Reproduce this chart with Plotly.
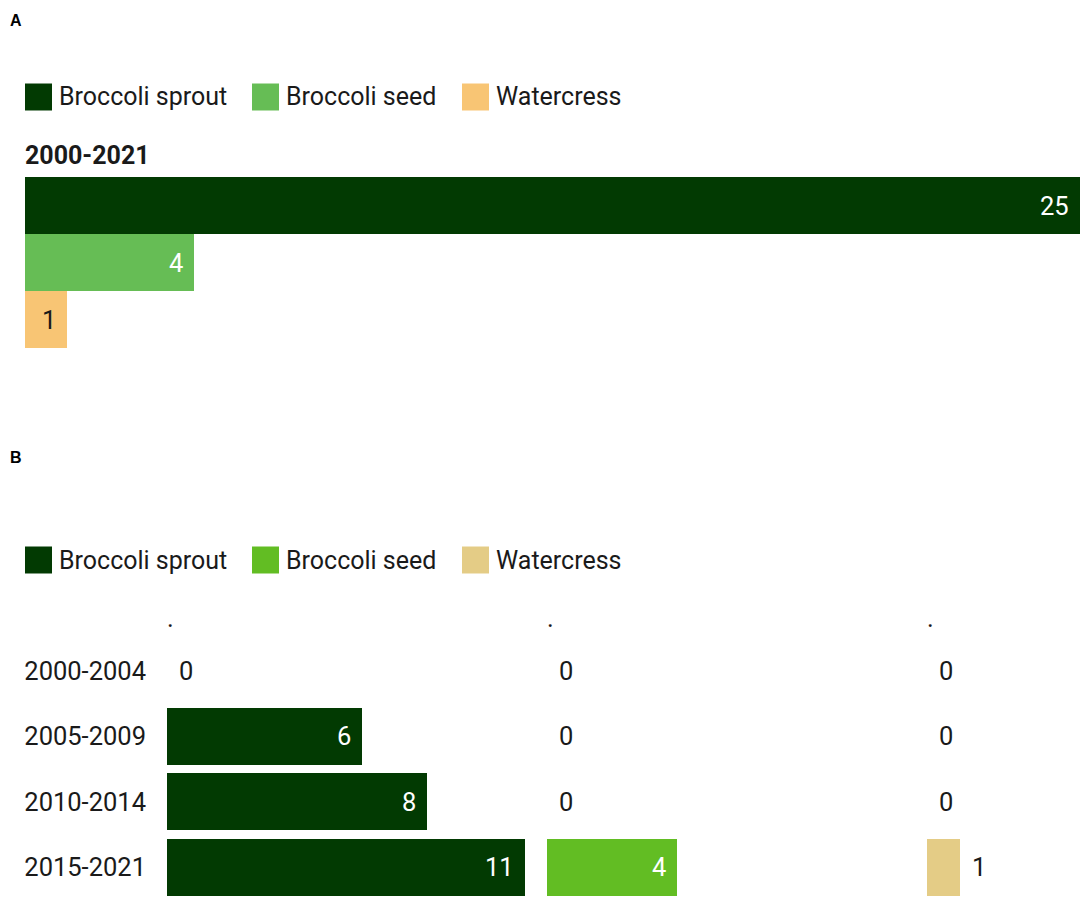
import plotly.graph_objects as go

# ---------------- data ----------------
species = ["Broccoli sprout", "Broccoli seed", "Watercress"]
period_all = "2000-2021"
counts_all = [25, 4, 1]

periods = ["2000-2004", "2005-2009", "2010-2014", "2015-2021"]
sprout_by_period = [0, 6, 8, 11]
seed_by_period = [0, 0, 0, 4]
watercress_by_period = [0, 0, 0, 1]

colors_a = ["#023a02", "#66bd55", "#f8c574"]
colors_b = ["#023a02", "#62bd23", "#e4cc86"]
label_on_bar = ["white", "white", "#1a1a1a"]

# ---------------- layout helpers ----------------
W, H = 1084, 900
FONT = "Roboto"
TXT = "#1a1a1a"
FS = 25.5


def fx(p):
    return p / W


def fy(p):
    return 1 - p / H


fig = go.Figure()

# ---- panel A ----
a_left, a_right = 25, 1080
a_top, a_bot = 177, 348
a_scale = (a_right - a_left) / max(counts_all)
for name, val, col in zip(species, counts_all, colors_a):
    fig.add_trace(go.Bar(
        x=[val], y=[period_all], orientation="h", name=name,
        marker=dict(color=col, line=dict(width=0)),
        xaxis="x", yaxis="y", showlegend=False, hoverinfo="x+name",
    ))

# ---- panel B ----
b_lefts = [167, 547, 927]
b_scale = 32.5
b_top, b_bot = 638, 900
b_series = [sprout_by_period, seed_by_period, watercress_by_period]
for i, (name, vals, col) in enumerate(zip(species, b_series, colors_b)):
    ax = str(i + 2)
    fig.add_trace(go.Bar(
        x=vals, y=periods, orientation="h", name=name, width=0.87,
        marker=dict(color=col, line=dict(width=0)),
        xaxis="x" + ax, yaxis="y" + ax, showlegend=False, hoverinfo="x+y",
    ))

axis_off = dict(showgrid=False, zeroline=False, showticklabels=False,
                showline=False, ticks="", fixedrange=True)

layout = dict(
    width=W, height=H,
    margin=dict(l=0, r=0, t=0, b=0),
    paper_bgcolor="white", plot_bgcolor="white",
    font=dict(family=FONT, size=FS, color=TXT),
    barmode="group", bargap=0, bargroupgap=0,
    showlegend=False,
    xaxis=dict(domain=[fx(a_left), fx(a_right)], range=[0, max(counts_all)], **axis_off),
    yaxis=dict(domain=[fy(a_bot), fy(a_top)], type="category",
               autorange="reversed", **axis_off),
)

col_widths = [374, 374, W - b_lefts[2]]
for i, (left, cw) in enumerate(zip(b_lefts, col_widths)):
    ax = str(i + 2)
    layout["xaxis" + ax] = dict(domain=[fx(left), fx(left + cw)],
                                range=[0, cw / b_scale], anchor="y" + ax, **axis_off)
    ydict = dict(domain=[fy(b_bot), fy(b_top)], type="category",
                 categoryorder="array", categoryarray=periods,
                 autorange="reversed", anchor="x" + ax,
                 showgrid=False, zeroline=False, showline=False, ticks="",
                 fixedrange=True)
    if i == 0:
        ydict.update(showticklabels=True, ticklabelstandoff=20,
                     tickfont=dict(family=FONT, size=FS, color=TXT))
    else:
        ydict.update(showticklabels=False, matches="y2")
    layout["yaxis" + ax] = ydict

fig.update_layout(**layout)

annotations = []
shapes = []

# panel letters
for letter, ypix in [("A", 20), ("B", 458)]:
    annotations.append(dict(text="<b>%s</b>" % letter, x=fx(8), y=fy(ypix),
                            xref="paper", yref="paper", xanchor="left", yanchor="middle",
                            showarrow=False,
                            font=dict(family="Liberation Sans", size=16, color="black")))

# facet title panel A
annotations.append(dict(text="<b>%s</b>" % period_all, x=fx(23), y=fy(155),
                        xref="paper", yref="paper", xanchor="left", yanchor="middle",
                        showarrow=False, font=dict(family=FONT, size=25, color=TXT)))

# facet titles panel B (".")
for left in b_lefts:
    annotations.append(dict(text=".", x=fx(left - 2), y=fy(618),
                            xref="paper", yref="paper", xanchor="left", yanchor="middle",
                            showarrow=False, font=dict(family=FONT, size=FS, color=TXT)))

# legends
legend_x = [25, 252, 462]
for ycen, cols in [(97, colors_a), (560, colors_b)]:
    for name, col, lx in zip(species, cols, legend_x):
        shapes.append(dict(type="rect", xref="paper", yref="paper",
                           x0=fx(lx), x1=fx(lx + 27), y0=fy(ycen + 13.5), y1=fy(ycen - 13.5),
                           fillcolor=col, line=dict(width=0)))
        annotations.append(dict(text=name, x=fx(lx + 32), y=fy(ycen),
                                xref="paper", yref="paper", xanchor="left", yanchor="middle",
                                showarrow=False, font=dict(family=FONT, size=25, color=TXT)))


def value_label(val, xref, yref, ycat, bar_px, on_color, yshift=0):
    inside = bar_px > 40
    if inside:
        return dict(text=str(val), x=val, y=ycat, xref=xref, yref=yref,
                    xanchor="right", yanchor="middle", xshift=-9, yshift=yshift,
                    showarrow=False, font=dict(family=FONT, size=FS, color=on_color))
    return dict(text=str(val), x=val, y=ycat, xref=xref, yref=yref,
                xanchor="left", yanchor="middle", xshift=10, yshift=yshift,
                showarrow=False, font=dict(family=FONT, size=FS, color=TXT))


# panel A value labels (grouped bars within one category)
bar_h = (a_bot - a_top) / len(species)
for k, (val, oncol) in enumerate(zip(counts_all, label_on_bar)):
    ycenter = a_top + bar_h * (k + 0.5)
    mid = (a_top + a_bot) / 2
    annotations.append(value_label(val, "x", "y", period_all, val * a_scale, oncol,
                                   yshift=mid - ycenter))

# panel B value labels
for i, (vals, oncol) in enumerate(zip(b_series, label_on_bar)):
    ax = str(i + 2)
    for p, v in zip(periods, vals):
        annotations.append(value_label(v, "x" + ax, "y" + ax, p, v * b_scale, oncol))

fig.update_layout(annotations=annotations, shapes=shapes)

fig.write_html("out.html", config={"displayModeBar": False},
               post_script="document.body.style.margin='0';document.body.style.overflow='hidden';")
